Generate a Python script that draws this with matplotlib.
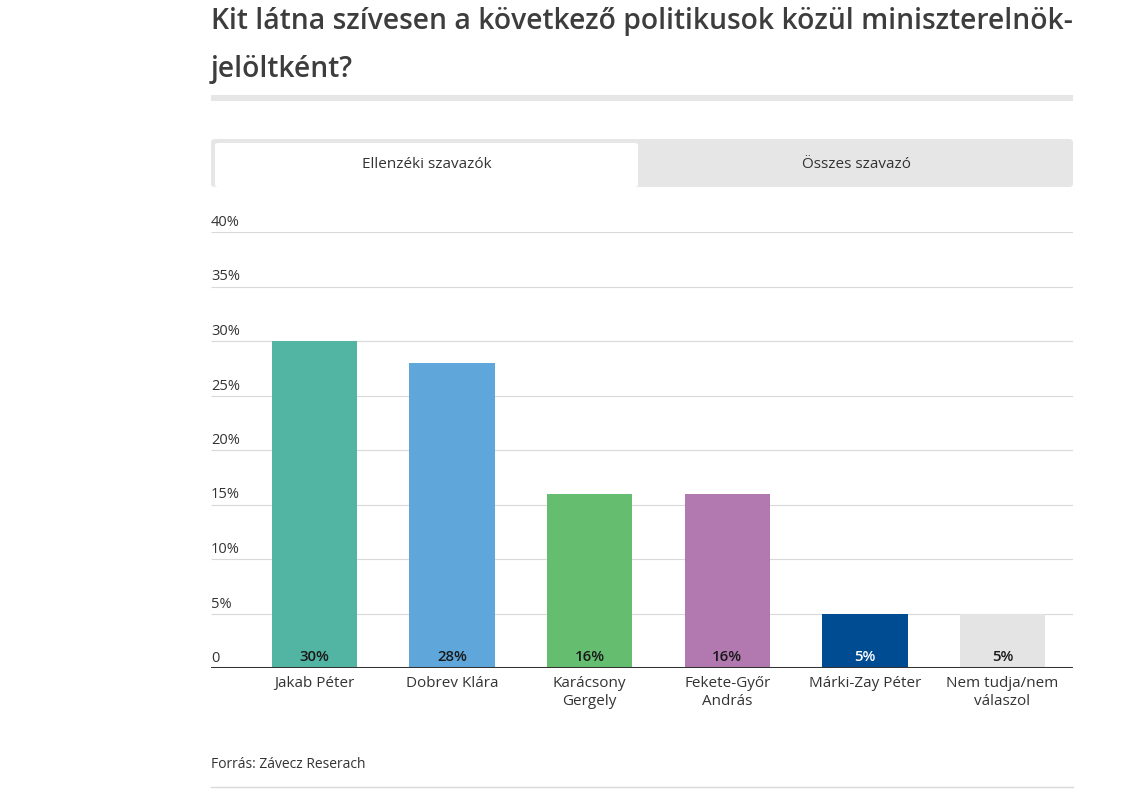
import matplotlib.pyplot as plt
from matplotlib.patches import FancyBboxPatch, Rectangle
from matplotlib.transforms import blended_transform_factory

plt.rcParams["font.family"] = ["Open Sans", "DejaVu Sans"]

names = ["Jakab Péter", "Dobrev Klára", "Karácsony\nGergely", "Fekete-Győr\nAndrás",
         "Márki-Zay Péter", "Nem tudja/nem\nválaszol"]
values = [30, 28, 16, 16, 5, 5]
colors = ["#52b5a3", "#5fa6da", "#65be6f", "#b179b0", "#004c93", "#e4e4e4"]
label_colors = ["#1a1a1a", "#1a1a1a", "#1a1a1a", "#1a1a1a", "#ffffff", "#1a1a1a"]
y_ticks = [0, 5, 10, 15, 20, 25, 30, 35, 40]
tabs = ["Ellenzéki szavazók", "Összes szavazó"]

W, H = 1147, 798
fig = plt.figure(figsize=(W / 100, H / 100), dpi=100)


def fx(px):
    return px / W


def fy(py):
    return 1 - py / H


# title
fig.text(fx(211), fy(21), "Kit látna szívesen a következő politikusok közül miniszterelnök-",
         fontsize=20.3, fontweight="semibold", color="#3d3d3d", va="center", ha="left")
fig.text(fx(211), fy(69), "jelöltként?",
         fontsize=20.3, fontweight="semibold", color="#3d3d3d", va="center", ha="left")
fig.patches.append(Rectangle((fx(211), fy(101)), fx(862), 6 / H, transform=fig.transFigure,
                             color="#e6e6e6", lw=0))

# tabs
fig.patches.append(FancyBboxPatch((fx(211), fy(187)), fx(862), 48 / H,
                                  boxstyle="round,pad=0,rounding_size=0.004",
                                  transform=fig.transFigure, color="#e6e6e6", lw=0))
fig.patches.append(FancyBboxPatch((fx(215), fy(187)), fx(423), 44 / H,
                                  boxstyle="round,pad=0,rounding_size=0.003",
                                  transform=fig.transFigure, color="#ffffff", lw=0))
fig.text(fx(427), fy(165), tabs[0], fontsize=11, color="#333333", ha="center", va="center")
fig.text(fx(857), fy(165), tabs[1], fontsize=11, color="#333333", ha="center", va="center")

# chart
ax = fig.add_axes([fx(211), fy(668), fx(862), 436 / H])
x = list(range(len(values)))
ax.bar(x, values, width=0.62, color=colors, zorder=2)
ax.set_xlim(-0.752, 5.512)
ax.set_ylim(0, 40)
for s in ax.spines.values():
    s.set_visible(False)
ax.set_xticks([])
ax.set_yticks([])
ax.hlines(y_ticks[1:], -0.752, 5.512, color="#d9d9d9", lw=0.8, zorder=1)
ax.axhline(0, color="#333333", lw=2.2, zorder=3)

tr = blended_transform_factory(ax.transAxes, ax.transData)
for t in y_ticks:
    lab = "0" if t == 0 else f"{t}%"
    ax.annotate(lab, (0, t), xycoords=tr, xytext=(0, 2), textcoords="offset pixels",
                fontsize=10.5, color="#333333", ha="left", va="bottom")

for i, v in enumerate(values):
    ax.annotate(f"{v}%", (i, 0), xytext=(0, 11), textcoords="offset pixels",
                fontsize=10.8, fontweight="semibold", color=label_colors[i],
                ha="center", va="center", zorder=4)
    ax.annotate(names[i], (i, 0), xytext=(0, -8), textcoords="offset pixels",
                fontsize=11, color="#333333", ha="center", va="top",
                linespacing=1.3, annotation_clip=False)

# footer
fig.text(fx(211), fy(764), "Forrás: Závecz Reserach", fontsize=10, color="#333333",
         ha="left", va="center")
fig.lines.append(plt.Line2D([fx(211), fx(1073)], [fy(787), fy(787)], transform=fig.transFigure,
                            color="#d9d9d9", lw=1))

fig.savefig("out.png", dpi=100, facecolor="white")
